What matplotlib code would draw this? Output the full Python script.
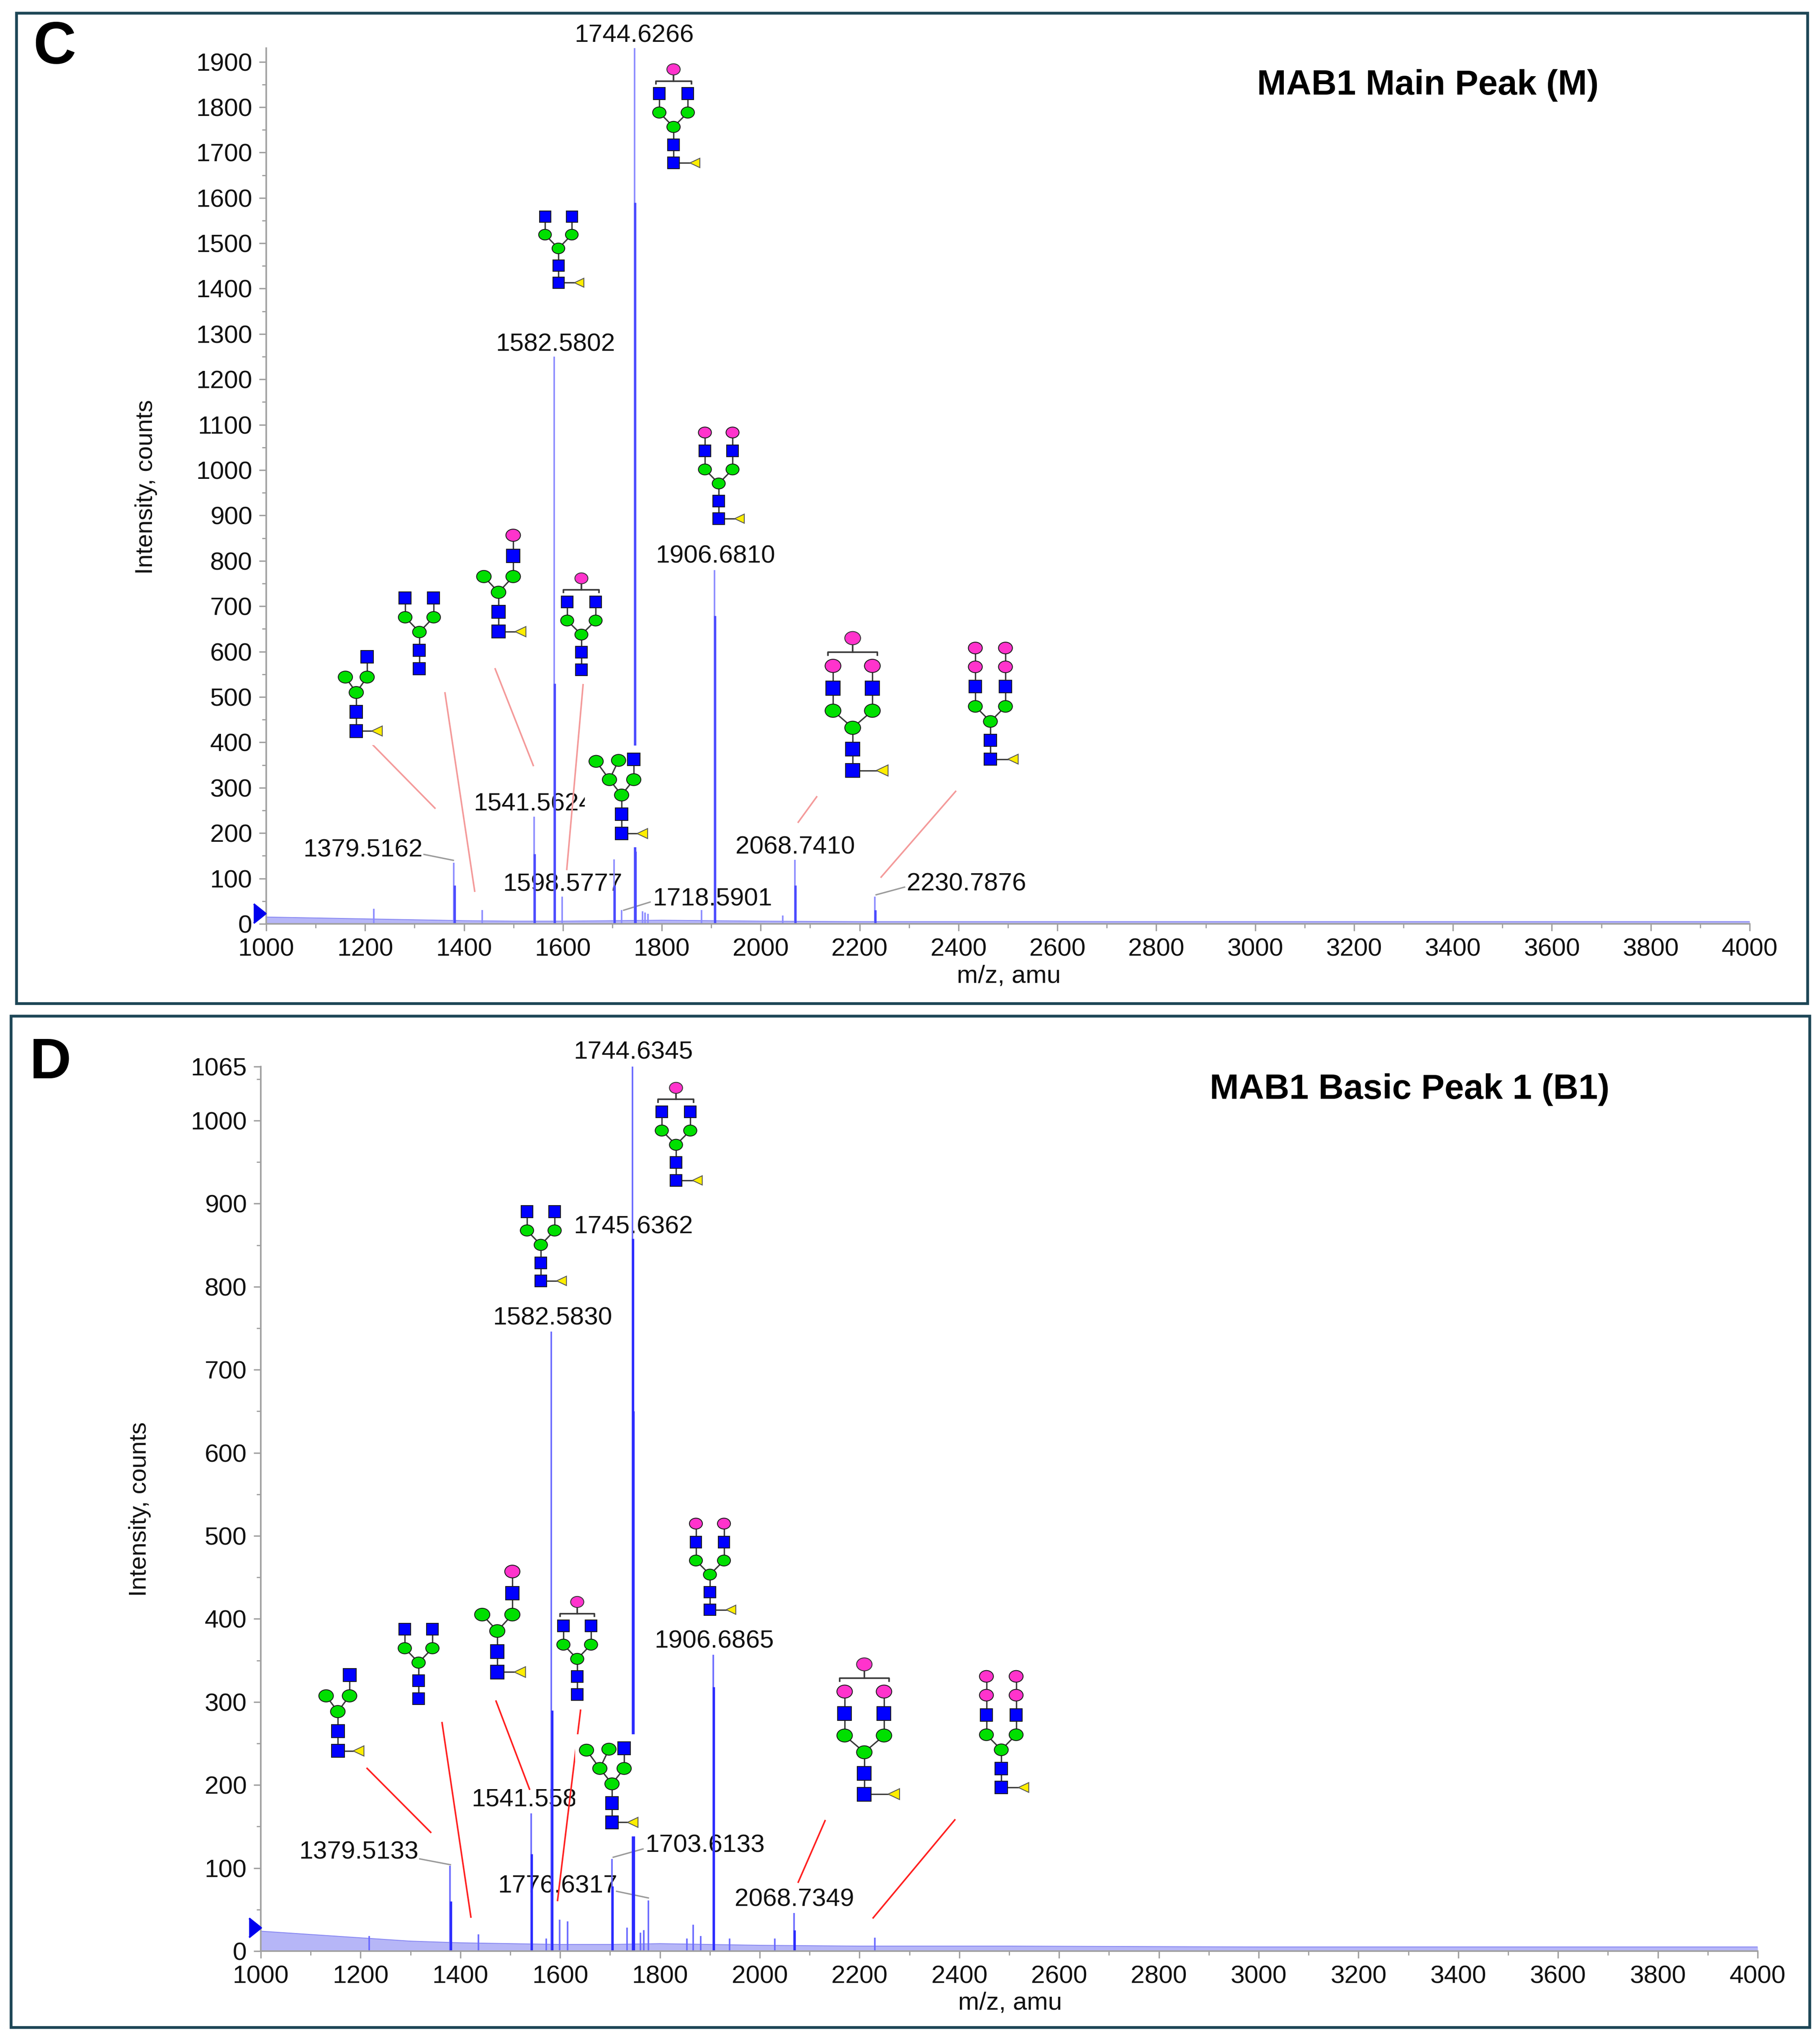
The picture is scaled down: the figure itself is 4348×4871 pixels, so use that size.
import matplotlib
matplotlib.use('Agg')
import matplotlib.pyplot as plt
from matplotlib.patches import Rectangle, Ellipse, Polygon
from matplotlib.lines import Line2D
from matplotlib.transforms import IdentityTransform
from matplotlib.ticker import MultipleLocator, FixedLocator

plt.rcParams['font.family'] = ['Liberation Sans', 'DejaVu Sans']

W, H, DPI = 4348, 4871, 300

# ------------------------------------------------------------------ data
# Panel C : MAB1 Main Peak (M)
c_mz = [1217.5, 1379.52, 1436.5, 1541.56, 1582.58, 1598.58, 1703.60, 1718.59,
        1744.63, 1760.6, 1766.0, 1772.0, 1880.7, 1906.68, 2045.0, 2068.74, 2230.79]
c_int = [33, 135, 30, 236, 1250, 60, 142, 30,
         1930, 28, 25, 22, 30, 780, 18, 141, 60]
c_iso_mz = [1380.52, 1542.56, 1583.58, 1704.60, 1745.63, 1746.63, 1907.68, 2069.74, 2231.79]
c_iso_int = [85, 154, 530, 85, 1590, 160, 679, 85, 30]

# Panel D : MAB1 Basic Peak 1 (B1)
d_mz = [1217.0, 1379.51, 1436.5, 1541.56, 1572.0, 1582.58, 1598.58, 1615.0, 1703.61,
        1734.0, 1744.63, 1761.0, 1768.0, 1776.63, 1854.0, 1867.0, 1882.0, 1906.69,
        1940.0, 2030.0, 2068.73, 2230.79]
d_int = [18, 103, 20, 166, 15, 746, 38, 36, 111,
         28, 1065, 22, 25, 61, 15, 32, 18, 357,
         15, 15, 46, 16]
d_iso_mz = [1380.51, 1542.56, 1583.58, 1704.61, 1745.64, 1746.64, 1747.64, 1907.69, 2069.73]
d_iso_int = [60, 117, 290, 78, 858, 650, 140, 318, 25]

# baseline noise envelope
noise_mz = [1000, 1050, 1100, 1150, 1200, 1250, 1300, 1350, 1400, 1500, 1600, 1700,
            1800, 1900, 2000, 2200, 2500, 3000, 3500, 4000]
c_noise = [15, 14, 13, 12, 11, 10, 9, 8, 7, 6, 6, 7, 8, 7, 6, 5, 5, 5, 5, 5]
d_noise = [24, 22, 20, 18, 16, 14, 12, 11, 10, 9, 8, 8, 9, 8, 7, 6, 6, 5, 5, 5]

# peak labels
c_lab = ['1744.6266', '1582.5802', '1906.6810', '1541.5624', '1379.5162',
         '1598.5777', '1718.5901', '2068.7410', '2230.7876']
c_lab_mz = [1744.1, 1585.0, 1908.3, 1540.1, 1195.5, 1599.3, 1902.4, 2070.0, 2416.2]
c_lab_int = [1958, 1277, 810, 264, 162, 87, 54, 169, 88]

d_lab = ['1744.6345', '1745.6362', '1582.5830', '1906.6865', '1541.558',
         '1379.5133', '1703.6133', '1776.6317', '2068.7349']
d_lab_mz = [1746.6, 1746.6, 1584.7, 1908.6, 1527.7, 1196.3, 1890.1, 1594.8, 2069.6]
d_lab_int = [1082, 872, 762, 373, 182, 119, 127, 78, 62]

# grey leader lines (label -> peak)
c_lead = [((1319.1, 153), (1378.4, 140)), ((1722.9, 30), (1776.3, 48)),
          ((2233.4, 64), (2290.9, 81))]
d_lead = [((1318.8, 111), (1380.0, 104)), ((1706.4, 113), (1766.0, 123)),
          ((1713.1, 72), (1776.8, 64))]

# red connectors (glycan -> peak)
c_conn = [((1215.0, 395), (1341.2, 255)), ((1361.5, 509), (1421.6, 72)),
          ((1463.0, 562), (1540.1, 349)), ((1640.8, 527), (1607.8, 120)),
          ((2113.2, 280), (2075.9, 224)), ((2394.2, 292), (2243.5, 103))]
d_conn = [((1213.1, 220), (1340.6, 143)), ((1363.3, 275), (1421.1, 41)),
          ((1471.5, 301), (1538.6, 195)), ((1640.9, 290), (1594.8, 61)),
          ((2130.9, 157), (2077.2, 83)), ((2391.0, 158), (2227.3, 40))]

# ------------------------------------------------------------ glycan glyphs
SQ, MAN, PK, FUC = 'sq', 'man', 'pk', 'fuc'
CORE = [(SQ, 0, 0, None), (SQ, 0, 1, 0), (MAN, 0, 2, 1), (MAN, -1, 2.8, 2), (MAN, 1, 2.8, 2)]
FUCOSE = [(FUC, 1.5, 0, 0)]
G0 = CORE + [(SQ, -1, 3.85, 3), (SQ, 1, 3.85, 4)]
STRUCT = {
    'A': CORE + [(SQ, 1, 3.85, 4)] + FUCOSE,
    'G0': G0,
    'G0F': G0 + FUCOSE,
    'C': CORE + [(SQ, 1, 3.85, 4), (PK, 1, 4.9, 5)] + FUCOSE,
    'G1': G0,
    'G1F': G0 + FUCOSE,
    'G2F': G0 + [(PK, -1, 4.9, 5), (PK, 1, 4.9, 6)] + FUCOSE,
    'G3F': G0 + [(PK, -1, 4.9, 5), (PK, 1, 4.9, 6)] + FUCOSE,
    'G4F': G0 + [(PK, -1, 4.9, 5), (PK, 1, 4.9, 6), (PK, -1, 5.9, 7), (PK, 1, 5.9, 8)] + FUCOSE,
    'HYB': CORE + [(MAN, -2.1, 3.75, 3), (MAN, -0.25, 3.8, 3), (SQ, 1, 3.85, 4)] + FUCOSE,
}
BRACKET = {'G1': (4.55, 5.2), 'G1F': (4.55, 5.2), 'G3F': (5.55, 6.2)}
COLORS = {SQ: '#0000ff', MAN: '#00e000', PK: '#ff33cc', FUC: '#ffee00'}

# layout of glycans: (structure, m/z, intensity, horiz unit px, vert unit px)
c_glycans = [('A', 1182.1, 425, 26, 46), ('G0', 1309.8, 562, 34, 44),
             ('C', 1469.8, 644, 35, 47), ('G1', 1637.4, 560, 34, 42),
             ('HYB', 1718.7, 199, 29, 46), ('G1F', 1823.7, 1677, 34, 43),
             ('G0F', 1590.9, 1413, 32, 41), ('G2F', 1915.1, 893, 33, 42),
             ('G3F', 2186.0, 338, 47, 51), ('G4F', 2464.5, 363, 36, 45)]
d_glycans = [('A', 1154.4, 241, 28, 47), ('G0', 1316.3, 304, 33, 43),
             ('C', 1474.0, 336, 36, 49), ('G1', 1634.2, 309, 33, 42.5),
             ('HYB', 1703.9, 155, 29, 46), ('G1F', 1832.2, 928, 34, 42.5),
             ('G0F', 1561.2, 807, 33, 43), ('G2F', 1900.2, 411, 33.5, 42),
             ('G3F', 2209.6, 189, 47, 50), ('G4F', 2484.1, 197, 35.5, 45)]

ID = IdentityTransform()
BOND = '#3a3a3a'


def _add(ax, art, patch=False):
    if patch:
        ax.add_patch(art)
    else:
        ax.add_line(art)
    art.set_clip_on(False)


def draw_glycan(ax, kind, mz, inten, hs, vs):
    X0, Y0 = ax.transData.transform((mz, inten))
    res = STRUCT[kind]
    P = []
    for (k, gx, gy, par) in res:
        x = X0 + (1.5 * max(hs, 33) if k == FUC else gx * hs)
        P.append((x, Y0 + gy * vs))
    sq = 0.66 * vs
    cw, ch = 0.74 * vs, 0.62 * vs
    tw, th = 0.55 * vs, 0.52 * vs
    half = {SQ: (sq / 2, sq / 2), MAN: (cw / 2, ch / 2), PK: (cw / 2, ch / 2), FUC: (tw / 2, th / 2)}
    xs, ys = [], []
    for (k, gx, gy, par), (x, y) in zip(res, P):
        hw, hh = half[k]
        xs += [x - hw, x + hw]
        ys += [y - hh, y + hh]
    br = BRACKET.get(kind)
    if br:
        xs += [X0 - 1.3 * hs, X0 + 1.3 * hs]
        ys += [Y0 + br[1] * vs + ch / 2]
    mx, my = 10, 18
    _add(ax, Rectangle((min(xs) - mx, min(ys) - my), max(xs) - min(xs) + 2 * mx,
                       max(ys) - min(ys) + 2 * my, transform=ID, facecolor='white',
                       edgecolor='none', zorder=3), patch=True)
    for (k, gx, gy, par), (x, y) in zip(res, P):
        if par is not None:
            px_, py_ = P[par]
            _add(ax, Line2D([px_, x], [py_, y], transform=ID, color=BOND, lw=0.8, zorder=3.5))
    if br:
        yb, yp = Y0 + br[0] * vs, Y0 + br[1] * vs
        xl, xr = X0 - 1.25 * hs, X0 + 1.25 * hs
        d = 0.15 * vs
        _add(ax, Line2D([xl, xl, xr, xr], [yb - d, yb, yb, yb - d], transform=ID,
                        color=BOND, lw=0.9, zorder=3.5))
        _add(ax, Line2D([X0, X0], [yb, yp], transform=ID, color=BOND, lw=0.9, zorder=3.5))
        _add(ax, Ellipse((X0, yp), cw, ch, transform=ID, facecolor=COLORS[PK],
                         edgecolor='#333333', lw=0.5, zorder=4), patch=True)
    for (k, gx, gy, par), (x, y) in zip(res, P):
        if k == SQ:
            art = Rectangle((x - sq / 2, y - sq / 2), sq, sq, transform=ID,
                            facecolor=COLORS[SQ], edgecolor='#1a1a1a', lw=0.5, zorder=4)
        elif k == FUC:
            art = Polygon([(x - tw / 2, y), (x + tw / 2, y + th / 2), (x + tw / 2, y - th / 2)],
                          closed=True, transform=ID, facecolor=COLORS[FUC],
                          edgecolor='#555555', lw=0.5, zorder=4)
        else:
            art = Ellipse((x, y), cw, ch, transform=ID, facecolor=COLORS[k],
                          edgecolor='#1a1a1a', lw=0.5, zorder=4)
        _add(ax, art, patch=True)


# ------------------------------------------------------------------ figure
fig = plt.figure(figsize=(W / DPI, H / DPI), dpi=DPI)
fig.patch.set_facecolor('white')


def fx(X):
    return X / W


def fy(Y):
    return 1 - Y / H


for (x0, y0, x1, y1) in [(39, 31, 4318, 2397), (26, 2427, 4323, 4843)]:
    fig.add_artist(Rectangle((fx(x0), fy(y1)), (x1 - x0) / W, (y1 - y0) / H,
                             transform=fig.transFigure, fill=False,
                             edgecolor='#1d4656', lw=1.6, zorder=0))

axC = fig.add_axes([636 / W, fy(2207), (4180 - 636) / W, (2207 - 115) / H])
axD = fig.add_axes([623 / W, fy(4661), (4199 - 623) / W, (4661 - 2548) / H])


def style(ax, ymax, yticks):
    ax.set_facecolor('none')
    ax.set_xlim(1000, 4000)
    ax.set_ylim(0, ymax)
    for s in ['top', 'right']:
        ax.spines[s].set_visible(False)
    for s in ['left', 'bottom']:
        ax.spines[s].set_color('#a0a0a0')
        ax.spines[s].set_linewidth(0.9)
    ax.xaxis.set_major_locator(MultipleLocator(200))
    ax.xaxis.set_minor_locator(MultipleLocator(100))
    ax.yaxis.set_major_locator(FixedLocator(yticks))
    ax.yaxis.set_minor_locator(MultipleLocator(50))
    ax.tick_params(which='major', direction='out', length=4, width=0.8, color='#a0a0a0',
                   labelsize=14.5, pad=4, labelcolor='#111111')
    ax.tick_params(which='minor', direction='out', length=2.3, width=0.7, color='#a0a0a0')


style(axC, 1930, list(range(0, 2000, 100)))
style(axD, 1065, list(range(0, 1001, 100)) + [1065])

panels = [
    (axC, c_mz, c_int, c_iso_mz, c_iso_int, c_noise, c_lab, c_lab_mz, c_lab_int, c_lead, c_conn,
     c_glycans, '#8c8cff', '#4b4bff', '#f49a9a', (986.5, 23)),
    (axD, d_mz, d_int, d_iso_mz, d_iso_int, d_noise, d_lab, d_lab_mz, d_lab_int, d_lead, d_conn,
     d_glycans, '#6a6aff', '#2a2aff', '#ff2020', (988.3, 28)),
]

for (ax, mz, it, imz, iit, nz, lab, lmz, lit, lead, conn, gly, c1, c2, rc, tri) in panels:
    ax.fill_between(noise_mz, 0, nz, color='#6f6ff0', alpha=0.5, lw=0, zorder=1.8)
    ax.plot(noise_mz, nz, color='#6f6ff0', lw=0.5, alpha=0.8, zorder=1.8)
    ax.vlines(mz, 0, it, colors=c1, lw=0.9, zorder=2)
    ax.vlines(imz, 0, iit, colors=c2, lw=1.3, zorder=2.1)
    for s, x, y in zip(lab, lmz, lit):
        ax.text(x, y, s, ha='center', va='center', fontsize=14.5, color='#111111', zorder=1.5)
    for (a, b) in lead:
        ax.plot([a[0], b[0]], [a[1], b[1]], color='#9a9a9a', lw=0.8, zorder=1.6, clip_on=False)
    for (a, b) in conn:
        ax.plot([a[0], b[0]], [a[1], b[1]], color=rc, lw=0.9, zorder=2.5, clip_on=False)
    ax.plot([tri[0]], [tri[1]], linestyle='none', marker=[(-1, -1.6), (1, 0), (-1, 1.6)],
            ms=11, color='#0000ee', clip_on=False, zorder=5)
    for g in gly:
        draw_glycan(ax, *g)

# texts
fig.text(fx(130), fy(115), 'C', fontsize=34, fontweight='bold', ha='center', va='center')
fig.text(fx(120), fy(2540), 'D', fontsize=33, fontweight='bold', ha='center', va='center')
fig.text(fx(3411), fy(204), 'MAB1 Main Peak (M)', fontsize=20, fontweight='bold',
         ha='center', va='center')
fig.text(fx(3368), fy(2603), 'MAB1 Basic Peak 1 (B1)', fontsize=20, fontweight='bold',
         ha='center', va='center')
fig.text(fx(349), fy(1163), 'Intensity, counts', fontsize=14, rotation=90,
         ha='center', va='center', color='#111111')
fig.text(fx(334), fy(3605), 'Intensity, counts', fontsize=14, rotation=90,
         ha='center', va='center', color='#111111')
fig.text(fx(2410), fy(2332), 'm/z, amu', fontsize=14.5, ha='center', va='center', color='#111111')
fig.text(fx(2413), fy(4785), 'm/z, amu', fontsize=14.5, ha='center', va='center', color='#111111')

fig.savefig('out.png', dpi=DPI, facecolor='white')
